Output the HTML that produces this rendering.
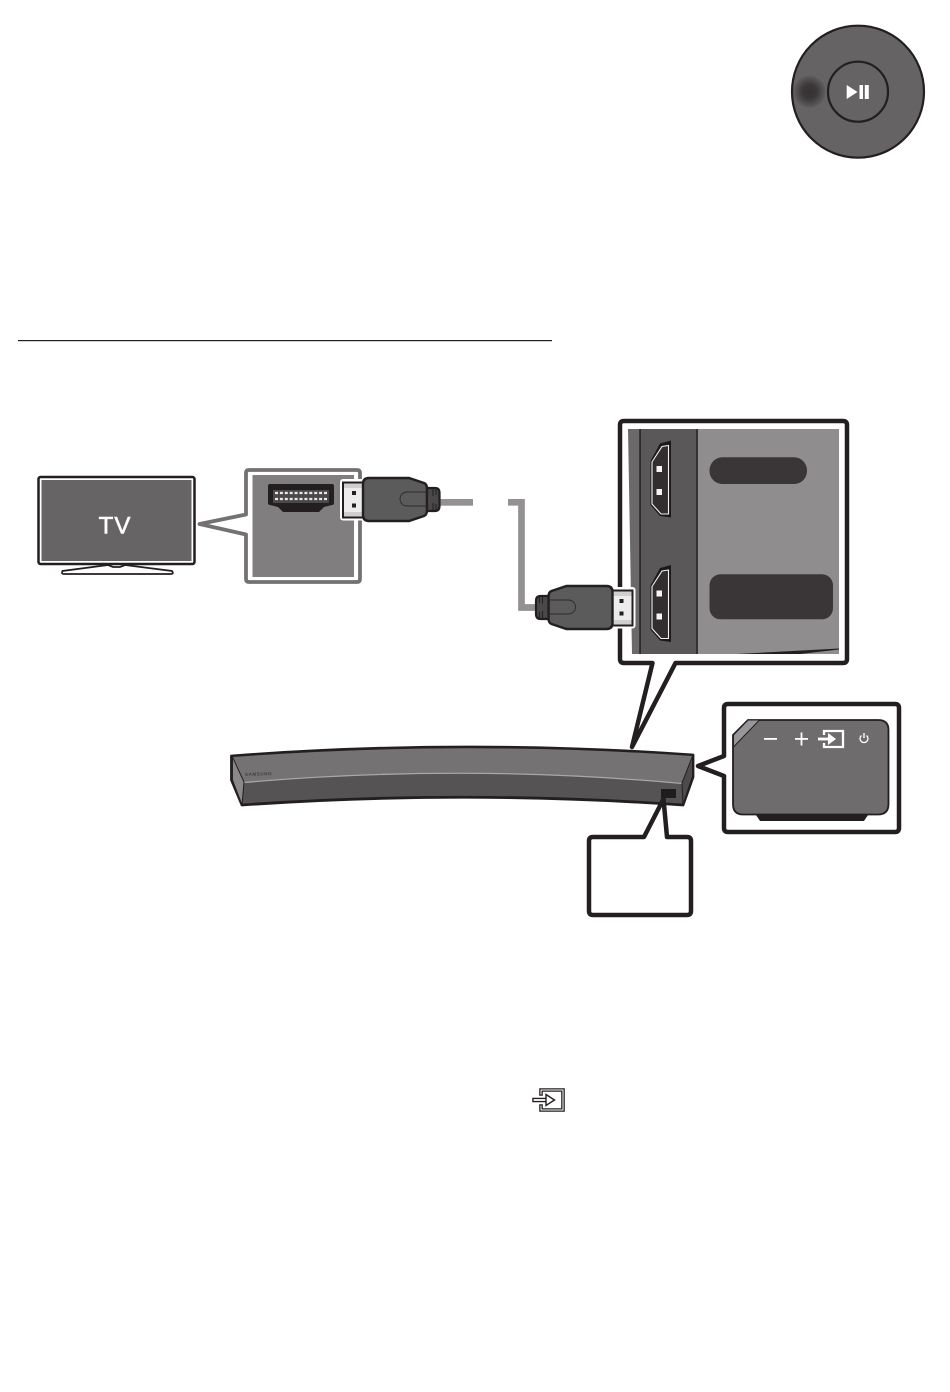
<!DOCTYPE html>
<html>
<head>
<meta charset="utf-8">
<style>
html,body{margin:0;padding:0;background:#fff;width:950px;height:1392px;overflow:hidden}
svg{display:block}
text{font-family:"Liberation Sans",sans-serif}
</style>
</head>
<body>
<svg width="950" height="1392" viewBox="0 0 950 1392" xmlns="http://www.w3.org/2000/svg">
<defs>
<radialGradient id="spot"><stop offset="0" stop-color="#363233"/><stop offset=".45" stop-color="#3c3839"/><stop offset="1" stop-color="#5f5d5e"/></radialGradient>
<g id="plug">
  <rect x="340" y="479" width="26" height="41.5" rx="3" fill="#fff"/>
  <rect x="343" y="482.5" width="22" height="35" fill="#cfcfcf" stroke="#231f20" stroke-width="2"/>
  <rect x="344" y="488" width="20" height="24" fill="#ececec"/>
  <rect x="352" y="491" width="4" height="4" fill="#231f20"/>
  <rect x="352" y="503.5" width="4" height="4" fill="#231f20"/>
  <path d="M363,484 Q363,478 369,478 L409,478 L424,483 Q427,484 427,489 L427,510 Q427,515 424,516 L409,521 L369,521 Q363,521 363,515 Z" fill="#5c5b5c" stroke="#231f20" stroke-width="2.400"/>
  <path d="M427,488 L435,488 Q439.500,488 439.500,493 L439.500,506 Q439.500,511 435,511 L427,511 Z" fill="#4a4849" stroke="#231f20" stroke-width="2.200"/>
  <path d="M433,488 V496 M436,489 V495 M433,503 V511 M436,504 V510" stroke="#231f20" stroke-width="1" fill="none"/>
  <path d="M427,492 H407 A7,7 0 0 0 407,506 H427" fill="none" stroke="#2c2a2b" stroke-width="0.900"/>
</g>
<g id="port">
  <path d="M671,440.500 L660,443.500 L650.500,461 L650.500,505 L660,516 L671,517.500 Z" fill="#1c191a"/>
  <path d="M668.500,445.500 L662,446.500 L652,462 L652,504 L661,514 L668.500,514 Z" fill="#322e2f" stroke="#f2f2f2" stroke-width="1.100"/>
  <rect x="656.500" y="466" width="5.500" height="6" fill="#f4f4f4"/>
  <rect x="656.500" y="489" width="5.500" height="6" fill="#f4f4f4"/>
</g>
</defs>

<!-- Top dial -->
<circle cx="858" cy="91.700" r="66" fill="#656364" stroke="#231f20" stroke-width="2.200"/>
<circle cx="809.500" cy="91.700" r="16" fill="url(#spot)"/>
<circle cx="858" cy="91.700" r="30" fill="#656364" stroke="#231f20" stroke-width="2.200"/>
<path d="M846.700,85 L857.500,92 L846.700,99 Z" fill="#fff"/>
<rect x="859.500" y="85" width="3.500" height="14" fill="#fff"/>
<rect x="864.800" y="85" width="4" height="14" fill="#fff"/>

<!-- Rule -->
<rect x="18" y="340" width="534" height="1.200" fill="#231f20"/>

<!-- TV -->
<rect x="38.500" y="477" width="156" height="87" rx="2" fill="#fff" stroke="#231f20" stroke-width="2.500"/>
<rect x="41.500" y="480" width="150" height="81" fill="#666465"/>
<text x="115" y="533.500" font-size="24" fill="#fff" stroke="#fff" stroke-width=".6" text-anchor="middle" letter-spacing="1">TV</text>
<path d="M108,565 L62.500,571 Q61,574 64,574 L171,574 Q174,574 172,571 L125,565 L120,567 L113,567 Z" fill="#fff" stroke="#231f20" stroke-width="1.800"/>

<!-- TV callout -->
<path d="M249,470 H357 Q360,470 360,473 V579 Q360,582 357,582 H249 Q246,582 246,579 V534.500 L199.500,524 L246,514.500 V473 Q246,470 249,470 Z" fill="#fff" stroke="#737172" stroke-width="3.800" stroke-linejoin="round"/>
<rect x="252.500" y="475" width="101.500" height="102" fill="#807e7f"/>
<path d="M268,486 Q268,484 270,484 H332 Q334,484 334,486 V503 Q334,505 332,505 L324,507 L319,512 H283 L278,507 L270,505 Q268,505 268,503 Z" fill="#231f20"/>
<rect x="273" y="490" width="56" height="13" fill="#4a4849"/>
<path d="M275,493 H327 M275,499 H327" stroke="#e8e8e8" stroke-width="2.200" stroke-dasharray="3 1.900" fill="none"/>

<!-- Cable -->
<rect x="440" y="499" width="33" height="6.700" fill="#939192"/>
<path d="M508,502.300 H521.500 V607.500 H536" fill="none" stroke="#939192" stroke-width="6.700"/>

<!-- Big callout -->
<path d="M625,421 H843 Q847,421 847,425 V659 Q847,663 843,663 H675.500 L632,747 L652.500,663 H624 Q620,663 620,659 V425 Q620,421 624,421 Z" fill="#fff" stroke="#231f20" stroke-width="4.500" stroke-linejoin="round"/>
<path d="M628,429 H640 V654 H632 Z" fill="#6b696a"/>
<rect x="640" y="429" width="57" height="225" fill="#5a5859"/>
<rect x="697" y="429" width="142" height="225" fill="#8f8d8e"/>
<rect x="639.300" y="429" width="1.500" height="225" fill="#231f20"/>
<rect x="696.300" y="429" width="1.500" height="225" fill="#231f20"/>
<path d="M737,654 L839,648.500 V649.500 L800,654 Z" fill="#231f20"/>
<rect x="709.500" y="457.300" width="97.500" height="26.700" rx="13" fill="#3a3637"/>
<rect x="709.500" y="574.300" width="123.500" height="45" rx="11" fill="#3a3637"/>
<use href="#port"/>
<use href="#port" y="124.500"/>

<!-- Plugs -->
<use href="#plug"/>
<use href="#plug" transform="translate(975.500,108) scale(-1,1)"/>

<!-- Soundbar -->
<path d="M231.500,756 Q463,738.500 693,755 L693,777 L683,805 Q463,789.500 242,805 L231.500,780 Z" fill="#555354" stroke="#231f20" stroke-width="2.800" stroke-linejoin="round"/>
<path d="M233,757 Q463,740 692,756 L682,783 Q463,763.500 244,782 Z" fill="#747273"/>
<path d="M233,757 L244,782 L242,803.500 L233,780 Z" fill="#8a8889"/>
<path d="M692,757 L692,776 L683,803 L682,783 Z" fill="#4d4b4c"/>
<path d="M244,782.500 Q463,763.500 682,783.500" fill="none" stroke="#a8a6a7" stroke-width="1.300"/>
<path d="M232,756 L244,782 L242,805 M693,755 L682,783 L683,805" fill="none" stroke="#231f20" stroke-width="1"/>
<text x="245" y="776" font-size="4.500" font-weight="bold" letter-spacing=".6" fill="#3f3d3e" transform="rotate(-2 245 776)">SAMSUNG</text>
<rect x="661" y="789" width="15" height="9" fill="#1f1c1d"/>

<!-- Bottom callout -->
<path d="M593,837 H644 L663.500,799 L667,837 H687 Q691,837 691,841 V911 Q691,915 687,915 H593 Q589,915 589,911 V841 Q589,837 593,837 Z" fill="#fff" stroke="#231f20" stroke-width="4.500" stroke-linejoin="round"/>

<!-- Control panel callout -->
<path d="M728,704 H895 Q899,704 899,708 V828 Q899,832 895,832 H728 Q724,832 724,828 V776 L698,766 L724,756 V708 Q724,704 728,704 Z" fill="#fff" stroke="#231f20" stroke-width="4.500" stroke-linejoin="round"/>
<path d="M756,815 H868 L864,821 H760 Z" fill="#231f20"/>
<path d="M748,720 H878 Q888.500,720 888.500,730 V804 Q888.500,814.500 878,814.500 H743 Q733,814.500 733,804 V735 Z" fill="#6e6c6d" stroke="#231f20" stroke-width="1.800"/>
<path d="M748,720 H759.500 L733.500,747 V735 Z" fill="#98969a" stroke="#231f20" stroke-width="1"/>
<rect x="764" y="738" width="13" height="1.800" fill="#fff"/>
<rect x="795" y="738" width="13" height="1.800" fill="#fff"/>
<rect x="800.600" y="732.500" width="1.800" height="13" fill="#fff"/>
<path d="M824,735 V731 H843 V747 H824 V743" fill="none" stroke="#fff" stroke-width="2.300"/>
<path d="M818,739 H829" stroke="#fff" stroke-width="2.800"/>
<path d="M828,733 L836,739 L828,745 Z" fill="#fff"/>
<path d="M861.500,735.500 A4,4 0 1 0 866.500,735.500" fill="none" stroke="#fff" stroke-width="1.300"/>
<rect x="863.300" y="733" width="1.400" height="5" fill="#fff"/>

<!-- Inline source icon -->
<g fill="none" stroke-linecap="square">
  <path d="M541,1094 V1090 H563 V1110 H541 V1106" stroke="#231f20" stroke-width="3.600"/>
  <path d="M541,1094 V1090 H563 V1110 H541 V1106" stroke="#fff" stroke-width="1"/>
  <path d="M534.500,1100 H546" stroke="#231f20" stroke-width="4.500"/>
  <path d="M534.500,1100 H546" stroke="#fff" stroke-width="1.800"/>
</g>
<path d="M546,1094.500 L554.500,1100 L546,1105.500 Z" fill="#fff" stroke="#231f20" stroke-width="1.400"/>
</svg>
</body>
</html>
